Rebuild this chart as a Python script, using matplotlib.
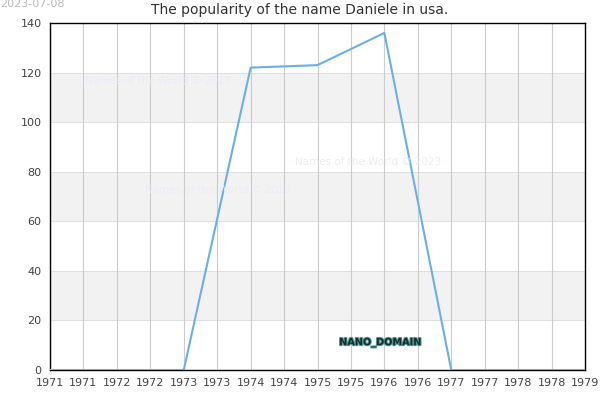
import numpy as np
import matplotlib
matplotlib.use("Agg")
import matplotlib.pyplot as plt
import matplotlib.patheffects as pe
from matplotlib.ticker import FuncFormatter

# data
years = [1971, 1972, 1973, 1974, 1975, 1976, 1977, 1978, 1979]
counts = [0, 0, 0, 122, 123, 136, 0, 0, 0]
xticks = np.arange(1971, 1979.01, 0.5)
yticks = [0, 20, 40, 60, 80, 100, 120, 140]
title = "The popularity of the name Daniele in usa."
date_txt = "2023-07-08"
wm_txt = "Names of the World © 2023"

fig = plt.figure(figsize=(6, 4), dpi=100)
ax = fig.add_axes([50/600, 30/400, 535/600, 347/400])

ax.set_xlim(1971, 1979)
ax.set_ylim(0, 140)

# gray bands every other 20
for lo in [20, 60, 100]:
    ax.axhspan(lo, lo + 20, color="#f2f2f2", zorder=0, lw=0)
for y in yticks[1:-1]:
    ax.axhline(y, color="#e0e0e0", lw=0.8, zorder=1)
for x in xticks[1:-1]:
    ax.axvline(x, color="#cccccc", lw=0.8, zorder=1)

ax.plot(years, counts, color="#6aaef0", lw=1.5, zorder=3)

ax.set_xticks(xticks)
ax.xaxis.set_major_formatter(FuncFormatter(lambda v, p: str(int(v))))
ax.set_yticks(yticks)
ax.tick_params(length=0, labelsize=8, labelcolor="#444444", pad=6)
for s in ax.spines.values():
    s.set_color("black")
    s.set_linewidth(1)

# watermarks
for wx, wy in [(85, 81), (145, 190), (295, 162)]:
    fig.text(wx/600, 1 - wy/400, wm_txt, fontsize=7.5, color="#ececfa", va="center", ha="left", zorder=2)

ax.text(0.617, 0.08, "NANO_DOMAIN", transform=ax.transAxes, fontsize=7, color="#1a2a2a",
        ha="center", va="center", fontweight="bold",
        path_effects=[pe.withStroke(linewidth=1.5, foreground="#4a9a9a")], zorder=4)

fig.text(0.5, 1 - 10/400, title, ha="center", va="center", fontsize=10, color="#333333")
fig.text(0, 1 - 4/400, date_txt, ha="left", va="center", fontsize=8, color="#bbbbbb")

fig.savefig("out.png", dpi=100)
